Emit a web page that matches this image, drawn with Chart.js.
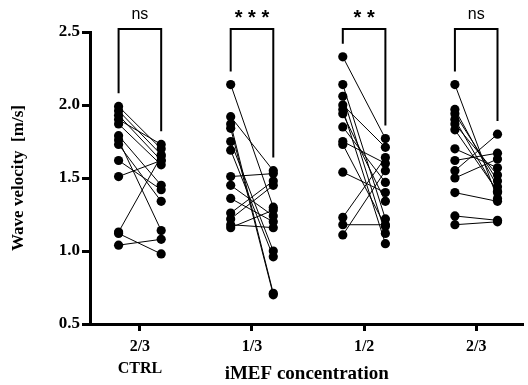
<!DOCTYPE html>
<html>
<head>
<meta charset="utf-8">
<script src="https://cdn.jsdelivr.net/npm/chart.js@4/dist/chart.umd.min.js"></script>
<style>
  html, body { margin: 0; padding: 0; background: #fff; }
  #wrap { width: 528px; height: 385px; position: relative; }
</style>
</head>
<body>
<div id="wrap"><canvas id="grafica"></canvas></div>
<script>
// concentraciones (eje x) y significancia de cada par
const grupos = [['2/3', 'CTRL'], '1/3', '1/2', '2/3'];
const significancia = ['ns', '***', '**', 'ns'];
const ticksY = [0.5, 1.0, 1.5, 2.0, 2.5];

// velocidad de onda antes / después para cada grupo (m/s)
const antes1 = [1.99, 1.96, 1.93, 1.90, 1.87, 1.79, 1.76, 1.73, 1.62, 1.51, 1.13, 1.12, 1.04];
const despues1 = [1.70, 1.66, 1.62, 1.73, 1.59, 1.45, 1.14, 1.34, 1.42, 1.62, 1.65, 0.98, 1.08];

const antes2 = [2.14, 1.92, 1.87, 1.84, 1.75, 1.69, 1.51, 1.45, 1.36, 1.26, 1.22, 1.18, 1.16];
const despues2 = [1.30, 1.55, 0.71, 0.70, 1.00, 0.96, 1.53, 1.24, 1.20, 1.48, 1.45, 1.16, 1.28];

const antes3 = [2.33, 2.14, 2.06, 2.00, 1.97, 1.94, 1.85, 1.75, 1.73, 1.54, 1.23, 1.18, 1.11];
const despues3 = [1.77, 1.22, 1.12, 1.71, 1.05, 1.34, 1.47, 1.60, 1.17, 1.40, 1.64, 1.18, 1.55];

const antes4 = [2.14, 1.97, 1.94, 1.90, 1.87, 1.83, 1.70, 1.62, 1.55, 1.50, 1.40, 1.24, 1.18];
const despues4 = [1.36, 1.44, 1.48, 1.40, 1.52, 1.41, 1.57, 1.67, 1.80, 1.63, 1.34, 1.21, 1.20];

const antes = [antes1, antes2, antes3, antes4];
const despues = [despues1, despues2, despues3, despues4];

const SEP = 0.19;  // separación de las columnas respecto al centro del grupo
const fuente = "'Liberation Serif', serif";

// un dataset por cada par antes-después
const datasets = [];
antes.forEach((lista, g) => {
    lista.forEach((v, i) => {
        datasets.push({
            data: [
                { x: g + 1 - SEP, y: v },
                { x: g + 1 + SEP, y: despues[g][i] }
            ],
            showLine: true,
            borderColor: '#000',
            borderWidth: 1,
            backgroundColor: '#000',
            pointRadius: 4.6,
            pointBorderWidth: 0,
            clip: false
        });
    });
});

// corchetes con la significancia sobre cada grupo
const corchetes = {
    id: 'corchetes',
    afterDraw(chart) {
        const { ctx, scales: { x, y } } = chart;
        ctx.save();
        ctx.strokeStyle = '#000';
        ctx.lineWidth = 2;
        ctx.fillStyle = '#000';
        ctx.textAlign = 'center';
        ctx.textBaseline = 'middle';
        significancia.forEach((txt, g) => {
            const xl = x.getPixelForValue(g + 1 - SEP);
            const xr = x.getPixelForValue(g + 1 + SEP);
            const top = y.getPixelForValue(2.52);
            const yl = y.getPixelForValue(Math.max(...antes[g]) + 0.09);
            const yr = y.getPixelForValue(Math.max(...despues[g]) + 0.09);
            ctx.beginPath();
            ctx.moveTo(xl, yl);
            ctx.lineTo(xl, top);
            ctx.lineTo(xr, top);
            ctx.lineTo(xr, yr);
            ctx.stroke();
            if (txt === 'ns') {
                ctx.font = "16px 'Liberation Sans', sans-serif";
                ctx.fillText(txt, (xl + xr) / 2, top - 14);
            } else {
                ctx.font = "bold 20px 'Liberation Sans', sans-serif";
                ctx.fillText(txt.split('').join(' '), (xl + xr) / 2, top - 11);
            }
        });
        ctx.restore();
    }
};

new Chart(document.getElementById('grafica'), {
    type: 'scatter',
    data: { datasets },
    options: {
        responsive: true,
        maintainAspectRatio: false,
        animation: false,
        layout: { padding: { top: 32, right: 0, left: 0, bottom: 0 } },
        plugins: {
            legend: { display: false },
            tooltip: { enabled: false }
        },
        scales: {
            x: {
                type: 'linear',
                min: 0.555,
                max: 4.421,
                afterBuildTicks: s => { s.ticks = grupos.map((_, i) => ({ value: i + 1 })); },
                afterFit: s => { s.height = 61; },
                border: { color: '#000', width: 3 },
                grid: { drawOnChartArea: false, drawTicks: true, tickLength: 7, tickWidth: 3, tickColor: '#000' },
                ticks: {
                    color: '#000',
                    padding: 4,
                    font: { family: fuente, size: 16, weight: 'bold', lineHeight: 1.42 },
                    callback: (v) => grupos[Math.round(v) - 1]
                },
                title: {
                    display: true,
                    text: 'iMEF concentration',
                    color: '#000',
                    padding: { top: -12, bottom: 0 },
                    font: { family: fuente, size: 19, weight: 'bold' }
                }
            },
            y: {
                min: 0.5,
                max: 2.5,
                afterBuildTicks: s => { s.ticks = ticksY.map(v => ({ value: v })); },
                afterFit: s => { s.width = 90; },
                border: { color: '#000', width: 3 },
                grid: { drawOnChartArea: false, drawTicks: true, tickLength: 8, tickWidth: 3, tickColor: '#000' },
                ticks: {
                    color: '#000',
                    padding: 2,
                    font: { family: fuente, size: 17, weight: 'bold' },
                    callback: v => v.toFixed(1)
                },
                title: {
                    display: true,
                    text: 'Wave velocity  [m/s]',
                    color: '#000',
                    padding: { top: 0, bottom: 0 },
                    font: { family: fuente, size: 17, weight: 'bold', lineHeight: 2.2 }
                }
            }
        }
    },
    plugins: [corchetes]
});
</script>
</body>
</html>
